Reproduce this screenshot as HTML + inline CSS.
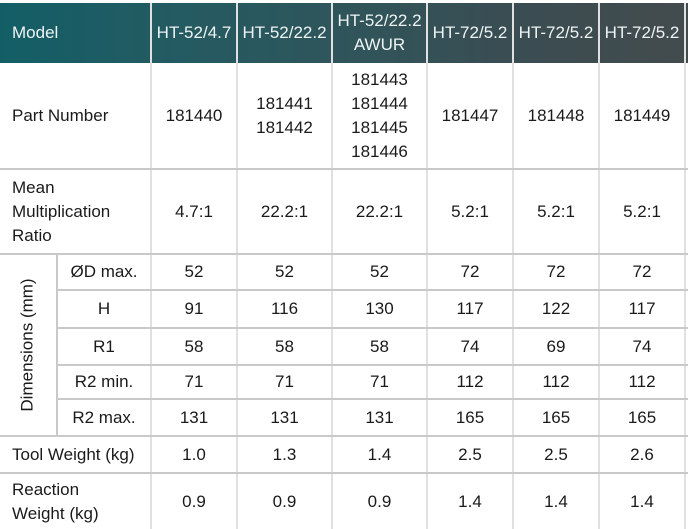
<!DOCTYPE html>
<html><head><style>
body{margin:0;width:688px;height:529px;background:#fff;position:relative;overflow:hidden;font-family:"Liberation Sans",sans-serif;font-size:17px;color:#1a1a1a}
.c{position:absolute;display:flex;align-items:center;justify-content:center;text-align:center;line-height:24px;white-space:nowrap}
.l{justify-content:flex-start;text-align:left;padding-left:12px;box-sizing:border-box}
.w{color:#eef3f3}
.vl{position:absolute;width:2px;background:#c9c9c9}
.hl{position:absolute;height:2px;background:#c9c9c9}
</style></head><body>
<div style="position:absolute;left:0;top:3px;width:688px;height:60px;background:linear-gradient(90deg,#135e66 0%,#225b62 22%,#2f555b 50%,#3a4d52 75%,#434b4d 100%)"></div>
<div class="vl" style="left:150px;top:3px;height:526px;background:#e0e0e0"></div>
<div class="vl" style="left:236px;top:3px;height:526px;background:#e0e0e0"></div>
<div class="vl" style="left:331px;top:3px;height:526px;background:#e0e0e0"></div>
<div class="vl" style="left:426px;top:3px;height:526px;background:#e0e0e0"></div>
<div class="vl" style="left:512px;top:3px;height:526px;background:#e0e0e0"></div>
<div class="vl" style="left:598px;top:3px;height:526px;background:#e0e0e0"></div>
<div class="vl" style="left:684px;top:3px;height:526px;background:#e0e0e0"></div>
<div class="vl" style="left:56px;top:254px;height:182px"></div>
<div class="hl" style="left:0;top:168px;width:688px"></div>
<div class="hl" style="left:0;top:253px;width:688px"></div>
<div class="hl" style="left:57px;top:289px;width:631px"></div>
<div class="hl" style="left:57px;top:327px;width:631px"></div>
<div class="hl" style="left:57px;top:364px;width:631px"></div>
<div class="hl" style="left:57px;top:398px;width:631px"></div>
<div class="hl" style="left:0;top:435px;width:688px"></div>
<div class="hl" style="left:0;top:472px;width:688px"></div>

<div class="c l w" style="left:0;top:3px;width:150px;height:60px">Model</div>
<div class="c w" style="left:151px;top:3px;width:86px;height:60px">HT-52/4.7</div>
<div class="c w" style="left:237px;top:3px;width:95px;height:60px">HT-52/22.2</div>
<div class="c w" style="left:332px;top:3px;width:95px;height:60px">HT-52/22.2<br>AWUR</div>
<div class="c w" style="left:427px;top:3px;width:86px;height:60px">HT-72/5.2</div>
<div class="c w" style="left:513px;top:3px;width:86px;height:60px">HT-72/5.2</div>
<div class="c w" style="left:599px;top:3px;width:86px;height:60px">HT-72/5.2</div>

<div class="c l" style="left:0;top:63px;width:150px;height:106px">Part Number</div>
<div class="c" style="left:151px;top:63px;width:86px;height:106px">181440</div>
<div class="c" style="left:237px;top:63px;width:95px;height:106px">181441<br>181442</div>
<div class="c" style="left:332px;top:63px;width:95px;height:106px">181443<br>181444<br>181445<br>181446</div>
<div class="c" style="left:427px;top:63px;width:86px;height:106px">181447</div>
<div class="c" style="left:513px;top:63px;width:86px;height:106px">181448</div>
<div class="c" style="left:599px;top:63px;width:86px;height:106px">181449</div>

<div class="c l" style="left:0;top:170px;width:150px;height:84px">Mean<br>Multiplication<br>Ratio</div>
<div class="c" style="left:151px;top:170px;width:86px;height:84px">4.7:1</div>
<div class="c" style="left:237px;top:170px;width:95px;height:84px">22.2:1</div>
<div class="c" style="left:332px;top:170px;width:95px;height:84px">22.2:1</div>
<div class="c" style="left:427px;top:170px;width:86px;height:84px">5.2:1</div>
<div class="c" style="left:513px;top:170px;width:86px;height:84px">5.2:1</div>
<div class="c" style="left:599px;top:170px;width:86px;height:84px">5.2:1</div>

<div class="c" style="left:0;top:255px;width:56px;height:180px"><span style="display:inline-block;transform:rotate(-90deg);white-space:nowrap">Dimensions (mm)</span></div>

<div class="c" style="left:58px;top:255px;width:92px;height:34px">ØD max.</div>
<div class="c" style="left:151px;top:255px;width:86px;height:34px">52</div>
<div class="c" style="left:237px;top:255px;width:95px;height:34px">52</div>
<div class="c" style="left:332px;top:255px;width:95px;height:34px">52</div>
<div class="c" style="left:427px;top:255px;width:86px;height:34px">72</div>
<div class="c" style="left:513px;top:255px;width:86px;height:34px">72</div>
<div class="c" style="left:599px;top:255px;width:86px;height:34px">72</div>

<div class="c" style="left:58px;top:291px;width:92px;height:36px">H</div>
<div class="c" style="left:151px;top:291px;width:86px;height:36px">91</div>
<div class="c" style="left:237px;top:291px;width:95px;height:36px">116</div>
<div class="c" style="left:332px;top:291px;width:95px;height:36px">130</div>
<div class="c" style="left:427px;top:291px;width:86px;height:36px">117</div>
<div class="c" style="left:513px;top:291px;width:86px;height:36px">122</div>
<div class="c" style="left:599px;top:291px;width:86px;height:36px">117</div>

<div class="c" style="left:58px;top:329px;width:92px;height:35px">R1</div>
<div class="c" style="left:151px;top:329px;width:86px;height:35px">58</div>
<div class="c" style="left:237px;top:329px;width:95px;height:35px">58</div>
<div class="c" style="left:332px;top:329px;width:95px;height:35px">58</div>
<div class="c" style="left:427px;top:329px;width:86px;height:35px">74</div>
<div class="c" style="left:513px;top:329px;width:86px;height:35px">69</div>
<div class="c" style="left:599px;top:329px;width:86px;height:35px">74</div>

<div class="c" style="left:58px;top:366px;width:92px;height:32px">R2 min.</div>
<div class="c" style="left:151px;top:366px;width:86px;height:32px">71</div>
<div class="c" style="left:237px;top:366px;width:95px;height:32px">71</div>
<div class="c" style="left:332px;top:366px;width:95px;height:32px">71</div>
<div class="c" style="left:427px;top:366px;width:86px;height:32px">112</div>
<div class="c" style="left:513px;top:366px;width:86px;height:32px">112</div>
<div class="c" style="left:599px;top:366px;width:86px;height:32px">112</div>

<div class="c" style="left:58px;top:400px;width:92px;height:35px">R2 max.</div>
<div class="c" style="left:151px;top:400px;width:86px;height:35px">131</div>
<div class="c" style="left:237px;top:400px;width:95px;height:35px">131</div>
<div class="c" style="left:332px;top:400px;width:95px;height:35px">131</div>
<div class="c" style="left:427px;top:400px;width:86px;height:35px">165</div>
<div class="c" style="left:513px;top:400px;width:86px;height:35px">165</div>
<div class="c" style="left:599px;top:400px;width:86px;height:35px">165</div>

<div class="c l" style="left:0;top:437px;width:150px;height:35px">Tool Weight (kg)</div>
<div class="c" style="left:151px;top:437px;width:86px;height:35px">1.0</div>
<div class="c" style="left:237px;top:437px;width:95px;height:35px">1.3</div>
<div class="c" style="left:332px;top:437px;width:95px;height:35px">1.4</div>
<div class="c" style="left:427px;top:437px;width:86px;height:35px">2.5</div>
<div class="c" style="left:513px;top:437px;width:86px;height:35px">2.5</div>
<div class="c" style="left:599px;top:437px;width:86px;height:35px">2.6</div>

<div class="c l" style="left:0;top:474px;width:150px;height:55px">Reaction<br>Weight (kg)</div>
<div class="c" style="left:151px;top:474px;width:86px;height:55px">0.9</div>
<div class="c" style="left:237px;top:474px;width:95px;height:55px">0.9</div>
<div class="c" style="left:332px;top:474px;width:95px;height:55px">0.9</div>
<div class="c" style="left:427px;top:474px;width:86px;height:55px">1.4</div>
<div class="c" style="left:513px;top:474px;width:86px;height:55px">1.4</div>
<div class="c" style="left:599px;top:474px;width:86px;height:55px">1.4</div>
</body></html>
